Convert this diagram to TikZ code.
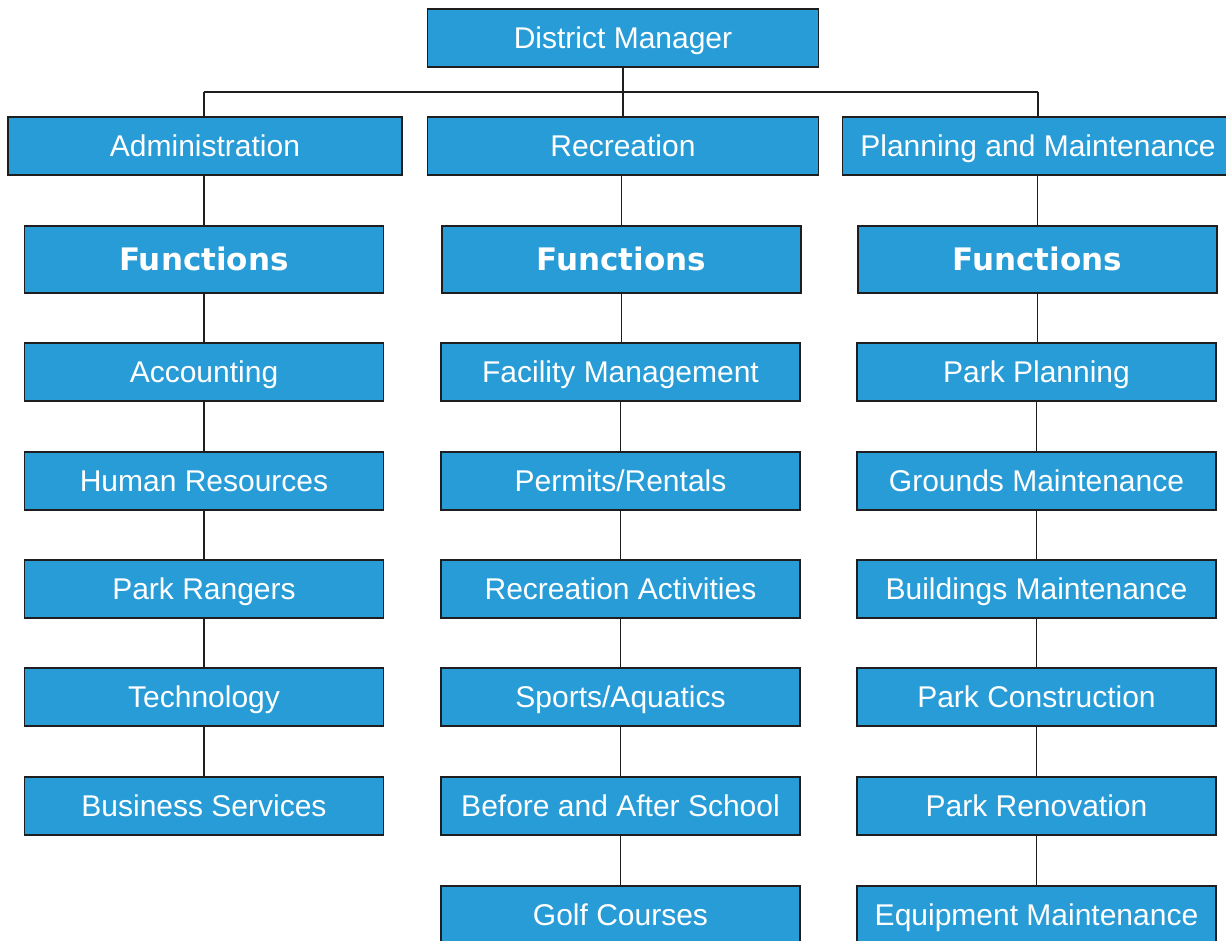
\documentclass[tikz,border=0pt]{standalone}
\usepackage{fontspec}
\setmainfont{Liberation Sans}
\newfontfamily\boldfn{DejaVu Sans}[BoldFont={DejaVu Sans Bold}]
\definecolor{boxblue}{RGB}{40,156,215}
\definecolor{edgegray}{RGB}{30,30,30}
\begin{document}
\begin{tikzpicture}[x=1pt,y=-1pt,
  orgbox/.style={draw=edgegray,line width=1.4pt,fill=boxblue,text=white,
    minimum height=58pt,inner sep=0pt,text height=27.5pt,text depth=6pt,
    font=\fontsize{30}{34}\selectfont},
  topbox/.style={orgbox,minimum width=391pt},
  funcbox/.style={orgbox,minimum width=359pt,minimum height=67pt,
    text height=28.2pt,text depth=6pt,
    font=\boldfn\bfseries\fontsize{31}{34}\selectfont},
  itembox/.style={orgbox,minimum width=359pt},
  link/.style={draw=edgegray,line width=1.5pt}]
\useasboundingbox (0,0) rectangle (1226,940);
\clip (0,0) rectangle (1226,940);
\fill[white] (0,0) rectangle (1226,940);
% top
\node[topbox] (dm) at (623,38) {District Manager};
\node[topbox,minimum width=394pt] (adm) at (205,146) {Administration};
\node[topbox] (rec) at (623,146) {Recreation};
\node[topbox] (pm) at (1038,146) {Planning and Maintenance};
% functions
\node[funcbox] (f1) at (204,259.5) {Functions};
\node[funcbox] (f2) at (621.5,259.5) {Functions};
\node[funcbox] (f3) at (1037.5,259.5) {Functions};
% left column
\node[itembox] (a1) at (204,372) {Accounting};
\node[itembox] (a2) at (204,481) {Human Resources};
\node[itembox] (a3) at (204,589) {Park Rangers};
\node[itembox] (a4) at (204,697) {Technology};
\node[itembox] (a5) at (204,806) {Business Services};
% middle column
\node[itembox] (b1) at (620.5,372) {Facility Management};
\node[itembox] (b2) at (620.5,481) {Permits/Rentals};
\node[itembox] (b3) at (620.5,589) {Recreation Activities};
\node[itembox] (b4) at (620.5,697) {Sports/Aquatics};
\node[itembox] (b5) at (620.5,806) {Before and After School};
\node[itembox] (b6) at (620.5,915) {Golf Courses};
% right column
\node[itembox] (c1) at (1036.5,372) {Park Planning};
\node[itembox] (c2) at (1036.5,481) {Grounds Maintenance};
\node[itembox] (c3) at (1036.5,589) {Buildings Maintenance};
\node[itembox] (c4) at (1036.5,697) {Park Construction};
\node[itembox] (c5) at (1036.5,806) {Park Renovation};
\node[itembox] (c6) at (1036.5,915) {Equipment Maintenance};
% connectors
\coordinate (hl) at (204,92);
\coordinate (hm) at (623,92);
\coordinate (hr) at (1038,92);
\path[link] (dm.south) -- (hm);
\path[link] (hl) -- (hr);
\path[link] (hl) -- (hl |- adm.north);
\path[link] (hm) -- (rec.north);
\path[link] (hr) -- (pm.north);
\path[link] (adm.south -| f1.north) -- (f1.north);
\path[link] (rec.south -| f2.north) -- (f2.north);
\path[link] (pm.south -| f3.north) -- (f3.north);
\path[link] (f1.south) -- (a1.north) (a1.south) -- (a2.north) (a2.south) -- (a3.north) (a3.south) -- (a4.north) (a4.south) -- (a5.north);
\path[link] (f2.south) -- (f2.south |- b1.north) (b1.south) -- (b2.north) (b2.south) -- (b3.north) (b3.south) -- (b4.north) (b4.south) -- (b5.north) (b5.south) -- (b6.north);
\path[link] (f3.south) -- (f3.south |- c1.north) (c1.south) -- (c2.north) (c2.south) -- (c3.north) (c3.south) -- (c4.north) (c4.south) -- (c5.north) (c5.south) -- (c6.north);
\end{tikzpicture}
\end{document}
